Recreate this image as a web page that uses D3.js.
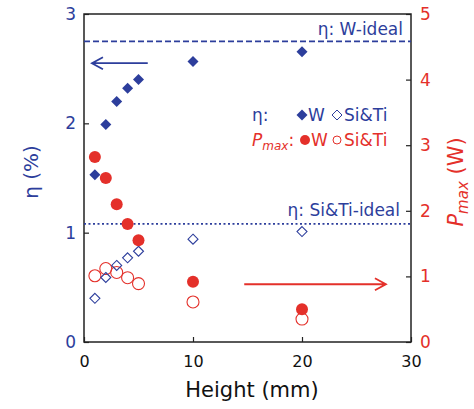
<!DOCTYPE html>
<html>
<head>
<meta charset="utf-8">
<script src="https://cdn.jsdelivr.net/npm/d3@7"></script>
<style>
  body { margin: 0; background: #fff; }
  svg { display: block; }
  text { font-family: "DejaVu Sans", Verdana, sans-serif; }
</style>
</head>
<body>
<div id="chart"></div>
<script>
// ---DATA---//
var heights = [1, 2, 3, 4, 5, 10, 20];
var etaW = [1.53, 1.99, 2.20, 2.32, 2.40, 2.565, 2.655];
var etaSiTi = [0.40, 0.59, 0.70, 0.77, 0.83, 0.94, 1.01];
var pmaxW = [2.82, 2.50, 2.10, 1.80, 1.55, 0.92, 0.50];
var pmaxSiTi = [1.01, 1.12, 1.06, 0.98, 0.89, 0.61, 0.35];
var etaIdealW = 2.75;
var etaIdealSiTi = 1.08;
var xTicks = [0, 10, 20, 30];
var etaTicks = [0, 1, 2, 3];
var pmaxTicks = [0, 1, 2, 3, 4, 5];

// ---LAYOUT---//
var width = 474, height = 409;
var margin = { left: 84, right: 63, top: 14, bottom: 67 };
var blue = "#2d3e9c";
var red = "#e4302a";

var svg = d3.select("#chart").append("svg")
	.attr("width", width).attr("height", height);

var x = d3.scaleLinear().domain([0, 30]).range([margin.left, width - margin.right]);
var yEta = d3.scaleLinear().domain([0, 3]).range([height - margin.bottom, margin.top]);
var yP = d3.scaleLinear().domain([0, 5]).range([height - margin.bottom, margin.top]);

var x0 = x.range()[0], x1 = x.range()[1];
var yb = yEta.range()[0], yt = yEta.range()[1];

// ---AXES---//
svg.append("g").attr("transform", "translate(0," + yb + ")")
	.call(d3.axisBottom(x).tickValues(xTicks).tickFormat(d3.format("d")).tickSize(-5).tickPadding(10))
	.call(function(g) {
		g.select(".domain").remove();
		g.selectAll("line").attr("stroke", "#222").attr("stroke-width", 1.2);
		g.selectAll("text").attr("font-size", 16).attr("fill", "#111").attr("dy", "0.95em");
	});

svg.append("g").attr("transform", "translate(" + x0 + ",0)")
	.call(d3.axisLeft(yEta).tickValues(etaTicks).tickFormat(d3.format("d")).tickSize(-5).tickPadding(8))
	.call(function(g) {
		g.select(".domain").remove();
		g.selectAll("line").attr("stroke", "#222").attr("stroke-width", 1.2);
		g.selectAll("text").attr("font-size", 17).attr("fill", blue);
	});

svg.append("g").attr("transform", "translate(" + x1 + ",0)")
	.call(d3.axisRight(yP).tickValues(pmaxTicks).tickFormat(d3.format("d")).tickSize(-5).tickPadding(9))
	.call(function(g) {
		g.select(".domain").remove();
		g.selectAll("line").attr("stroke", "#222").attr("stroke-width", 1.2);
		g.selectAll("text").attr("font-size", 17).attr("fill", red);
	});

// frame
svg.append("rect")
	.attr("x", x0).attr("y", yt)
	.attr("width", x1 - x0).attr("height", yb - yt)
	.attr("fill", "none").attr("stroke", "#222").attr("stroke-width", 1.5);

// axis titles
svg.append("text")
	.attr("x", 252).attr("y", 397)
	.attr("text-anchor", "middle").attr("font-size", 21).attr("fill", "#111")
	.text("Height (mm)");

svg.append("text")
	.attr("transform", "translate(38,172) rotate(-90)")
	.attr("text-anchor", "middle").attr("font-size", 20).attr("fill", blue)
	.text("η (%)");

var pTitle = svg.append("text")
	.attr("transform", "translate(463,182) rotate(-90)")
	.attr("text-anchor", "middle").attr("font-size", 21).attr("fill", red);
pTitle.append("tspan").attr("font-style", "italic").text("P");
pTitle.append("tspan").attr("font-style", "italic").attr("font-size", 15).attr("dy", 5).text("max");
pTitle.append("tspan").attr("dy", -5).text(" (W)");

// ---IDEAL LINES---//
svg.append("line")
	.attr("x1", x0).attr("x2", x1)
	.attr("y1", yEta(etaIdealW)).attr("y2", yEta(etaIdealW))
	.attr("stroke", blue).attr("stroke-width", 1.8).attr("stroke-dasharray", "6,3");
svg.append("text")
	.attr("x", 403).attr("y", yEta(etaIdealW) - 6)
	.attr("text-anchor", "end").attr("font-size", 17).attr("fill", blue)
	.text("η: W-ideal");

svg.append("line")
	.attr("x1", x0).attr("x2", x1)
	.attr("y1", yEta(etaIdealSiTi)).attr("y2", yEta(etaIdealSiTi))
	.attr("stroke", blue).attr("stroke-width", 1.6).attr("stroke-dasharray", "2,2.5");
svg.append("text")
	.attr("x", 400).attr("y", yEta(etaIdealSiTi) - 8)
	.attr("text-anchor", "end").attr("font-size", 17).attr("fill", blue)
	.text("η: Si&Ti-ideal");

// ---MARKERS---//
function diamond(s) {
	return "M0," + (-s) + "L" + s + ",0L0," + s + "L" + (-s) + ",0Z";
}

svg.append("g").selectAll("circle").data(heights).enter()
	.append("circle")
	.attr("cx", function(d) { return x(d); })
	.attr("cy", function(d, i) { return yP(pmaxSiTi[i]); })
	.attr("r", 6)
	.attr("fill", "none").attr("stroke", red).attr("stroke-width", 1.1);

svg.append("g").selectAll("path").data(heights).enter()
	.append("path")
	.attr("d", diamond(5))
	.attr("transform", function(d, i) { return "translate(" + x(d) + "," + yEta(etaSiTi[i]) + ")"; })
	.attr("fill", "none").attr("stroke", blue).attr("stroke-width", 1.1);

svg.append("g").selectAll("circle").data(heights).enter()
	.append("circle")
	.attr("cx", function(d) { return x(d); })
	.attr("cy", function(d, i) { return yP(pmaxW[i]); })
	.attr("r", 6)
	.attr("fill", red);

svg.append("g").selectAll("path").data(heights).enter()
	.append("path")
	.attr("d", diamond(5.5))
	.attr("transform", function(d, i) { return "translate(" + x(d) + "," + yEta(etaW[i]) + ")"; })
	.attr("fill", blue);

// ---ARROWS---//
function arrow(xa, xb, yy, color) {
	var dir = xb > xa ? -1 : 1;
	svg.append("path")
		.attr("d", "M" + xa + "," + yy + "L" + xb + "," + yy +
			"M" + (xb + dir * 11) + "," + (yy - 6) + "L" + xb + "," + yy + "L" + (xb + dir * 11) + "," + (yy + 6))
		.attr("fill", "none").attr("stroke", color).attr("stroke-width", 1.8);
}
arrow(x(5.85), x(0.73), yEta(2.55), blue);
arrow(x(14.7), x(27.7), yP(0.88), red);

// ---LEGEND---//
var lg = svg.append("g").attr("font-size", 17);
lg.append("text").attr("x", 252).attr("y", 121).attr("fill", blue).text("η:");
lg.append("path").attr("d", diamond(5.5)).attr("transform", "translate(302,115)").attr("fill", blue);
lg.append("text").attr("x", 308).attr("y", 121).attr("fill", blue).text("W");
lg.append("path").attr("d", diamond(5)).attr("transform", "translate(337,115)")
	.attr("fill", "none").attr("stroke", blue).attr("stroke-width", 1);
lg.append("text").attr("x", 344).attr("y", 121).attr("fill", blue).text("Si&Ti");

var pl = lg.append("text").attr("x", 252).attr("y", 146).attr("fill", red);
pl.append("tspan").attr("font-style", "italic").text("P");
pl.append("tspan").attr("font-style", "italic").attr("font-size", 12).attr("dy", 4).text("max");
pl.append("tspan").attr("dy", -4).text(":");
lg.append("circle").attr("cx", 305).attr("cy", 140).attr("r", 5).attr("fill", red);
lg.append("text").attr("x", 311).attr("y", 146).attr("fill", red).text("W");
lg.append("circle").attr("cx", 337).attr("cy", 140).attr("r", 4)
	.attr("fill", "none").attr("stroke", red).attr("stroke-width", 1);
lg.append("text").attr("x", 344).attr("y", 146).attr("fill", red).text("Si&Ti");
</script>
</body>
</html>
